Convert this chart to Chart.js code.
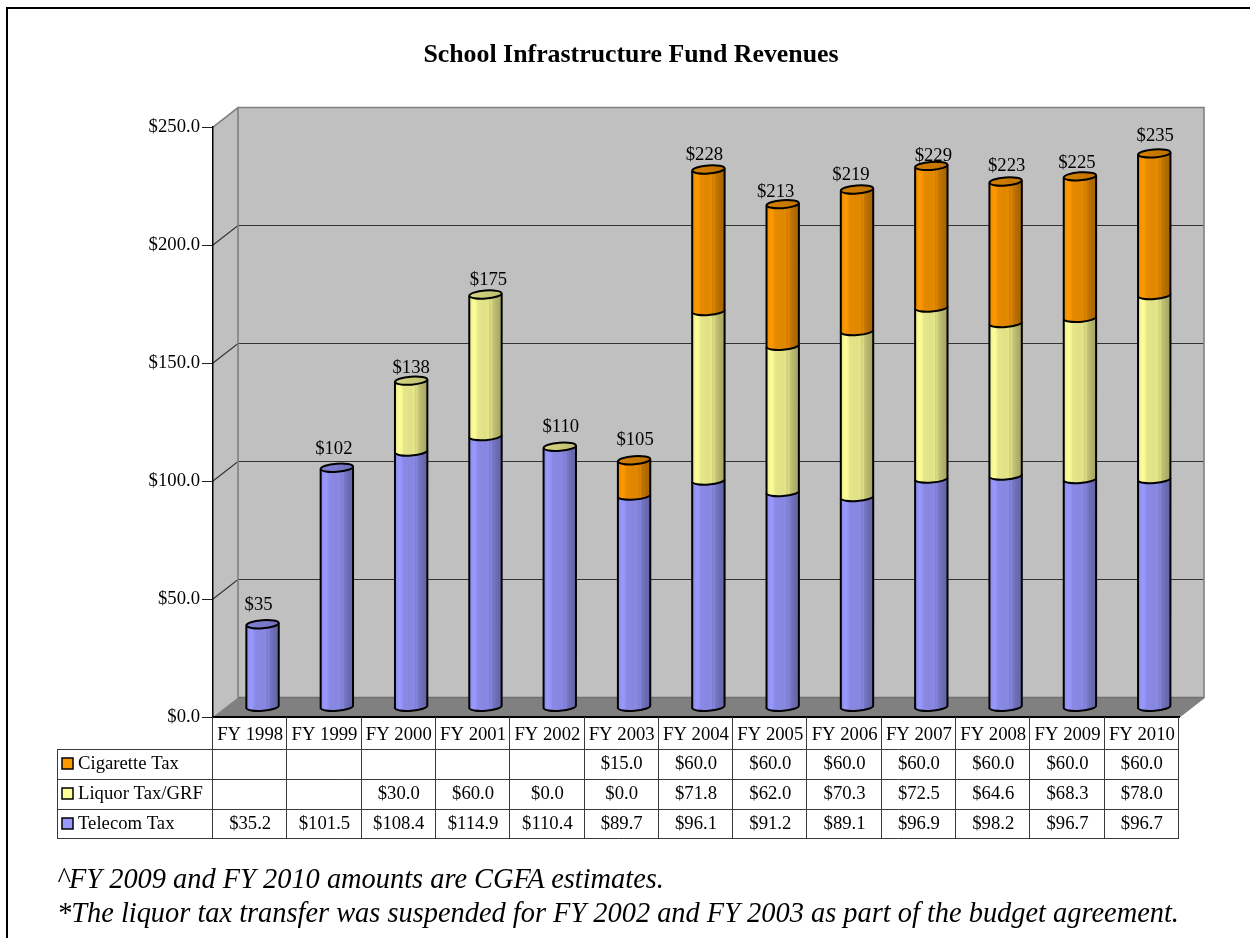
<!DOCTYPE html>
<html>
<head>
<meta charset="utf-8">
<title>School Infrastructure Fund Revenues</title>
<script src="https://cdn.jsdelivr.net/npm/chart.js@4"></script>
<style>
html, body { margin: 0; padding: 0; background: #fff; overflow: hidden; }
#wrap { position: relative; width: 1250px; height: 938px; overflow: hidden; }
#notes { position: absolute; left: 57px; top: 862px; font: italic 28.4px "Liberation Serif", serif; line-height: 34px; color: #000; white-space: nowrap; }
</style>
</head>
<body>
<div id="wrap">
    <canvas id="fundChart" width="1250" height="938"></canvas>
    <div id="notes">
        <div>^FY 2009 and FY 2010 amounts are CGFA estimates.</div>
        <div>*The liquor tax transfer was suspended for FY 2002 and FY 2003 as part of the budget agreement.</div>
    </div>
</div>
<script>
const years = ['FY 1998', 'FY 1999', 'FY 2000', 'FY 2001', 'FY 2002', 'FY 2003', 'FY 2004', 'FY 2005', 'FY 2006', 'FY 2007', 'FY 2008', 'FY 2009', 'FY 2010'];
const telecomTax = [35.2, 101.5, 108.4, 114.9, 110.4, 89.7, 96.1, 91.2, 89.1, 96.9, 98.2, 96.7, 96.7];
const liquorTax = [null, null, 30.0, 60.0, 0.0, 0.0, 71.8, 62.0, 70.3, 72.5, 64.6, 68.3, 78.0];
const cigaretteTax = [null, null, null, null, null, 15.0, 60.0, 60.0, 60.0, 60.0, 60.0, 60.0, 60.0];
const totalLabels = ['$35', '$102', '$138', '$175', '$110', '$105', '$228', '$213', '$219', '$229', '$223', '$225', '$235'];

const serif = '"Liberation Serif", serif';
const textSize = 18.7;

// how far the floor and back wall sit behind the axes, and where the bars stand in that depth
const depthX = 25, depthY = -19.5;
const barX = 12.4, barY = -9.7;
const capRy = 4, capTilt = -0.075;

// totals were placed by hand in the original, these nudge them off the bar centre
const labelNudgeX = [-4, -3, 0, 3, 1, 1, -4, -7, -6, 2, 1, -3, 1];
const labelLift = [19, 19, 13, 14, 20, 20, 14, 12, 14, 10, 15, 13, 17];

function shade(hex, k) {
    const n = parseInt(hex.slice(1), 16);
    const c = [n >> 16, (n >> 8) & 255, n & 255].map(v => Math.round(v * k));
    return 'rgb(' + c.join(',') + ')';
}

function sideFill(ctx, x0, x1, hex) {
    const g = ctx.createLinearGradient(x0, 0, x1, 0);
    const stops = [[0, .9], [.14, 1], [.24, .95], [.26, .9], [.5, .88], [.6, .9], [.62, .82], [.7, .86], [.72, .78], [.85, .7], [1, .64]];
    stops.forEach(s => g.addColorStop(s[0], shade(hex, s[1])));
    return g;
}

function capFill(ctx, x0, x1, hex) {
    const g = ctx.createLinearGradient(x0, 0, x1, 0);
    g.addColorStop(0, shade(hex, .84));
    g.addColorStop(1, shade(hex, .74));
    return g;
}

const box3d = {
    id: 'box3d',
    beforeDraw(chart) {
        const { ctx, chartArea: a, scales: { y } } = chart;
        ctx.save();
        // page frame, open at the right and bottom
        ctx.strokeStyle = '#000';
        ctx.lineWidth = 2;
        ctx.beginPath();
        ctx.moveTo(7, 938);
        ctx.lineTo(7, 8);
        ctx.lineTo(1250, 8);
        ctx.stroke();

        ctx.fillStyle = '#c0c0c0';
        ctx.beginPath();
        ctx.moveTo(a.left, a.top);
        ctx.lineTo(a.left + depthX, a.top + depthY);
        ctx.lineTo(a.right + depthX, a.top + depthY);
        ctx.lineTo(a.right + depthX, a.bottom + depthY);
        ctx.lineTo(a.left, a.bottom);
        ctx.closePath();
        ctx.fill();

        ctx.fillStyle = '#808080';
        ctx.beginPath();
        ctx.moveTo(a.left, a.bottom);
        ctx.lineTo(a.left + depthX, a.bottom + depthY);
        ctx.lineTo(a.right + depthX, a.bottom + depthY);
        ctx.lineTo(a.right, a.bottom);
        ctx.closePath();
        ctx.fill();

        y.ticks.forEach(t => {
            if (t.value === 0 || t.value === y.max) return;
            const py = y.getPixelForValue(t.value);
            ctx.strokeStyle = '#333';
            ctx.lineWidth = 1.2;
            ctx.beginPath();
            ctx.moveTo(a.left, py);
            ctx.lineTo(a.left + depthX, py + depthY);
            ctx.lineTo(a.right + depthX, py + depthY);
            ctx.stroke();
        });

        ctx.strokeStyle = '#808080';
        ctx.lineWidth = 1.6;
        ctx.beginPath();
        ctx.moveTo(a.left, a.top);
        ctx.lineTo(a.left + depthX, a.top + depthY);
        ctx.lineTo(a.right + depthX, a.top + depthY);
        ctx.lineTo(a.right + depthX, a.bottom + depthY);
        ctx.lineTo(a.right, a.bottom);
        ctx.moveTo(a.left + depthX, a.top + depthY);
        ctx.lineTo(a.left + depthX, a.bottom + depthY);
        ctx.stroke();
        ctx.strokeStyle = '#707070';
        ctx.beginPath();
        ctx.moveTo(a.left + depthX, a.bottom + depthY);
        ctx.lineTo(a.right + depthX, a.bottom + depthY);
        ctx.stroke();
        ctx.restore();
    },
    // the stock flat bars are replaced by the cylinders below
    beforeDatasetDraw() {
        return false;
    },
    afterDatasetsDraw(chart) {
        const { ctx } = chart;
        ctx.save();
        ctx.lineWidth = 2;
        ctx.strokeStyle = '#000';
        chart.data.datasets.forEach((ds, i) => {
            chart.getDatasetMeta(i).data.forEach((el, k) => {
                if (ds.data[k] === null) return;
                const cx = el.x + barX, rx = el.width / 2;
                const top = el.y + barY, bot = el.base + barY;
                const lean = rx * Math.sin(capTilt);
                if (ds.data[k] > 0) {
                    ctx.beginPath();
                    ctx.ellipse(cx, bot, rx, capRy, capTilt, 0, Math.PI);
                    ctx.lineTo(cx - rx, top - lean);
                    ctx.ellipse(cx, top, rx, capRy, capTilt, Math.PI, Math.PI * 2);
                    ctx.closePath();
                    ctx.fillStyle = sideFill(ctx, cx - rx, cx + rx, ds.backgroundColor);
                    ctx.fill();

                    ctx.beginPath();
                    ctx.moveTo(cx - rx, top - lean);
                    ctx.lineTo(cx - rx, bot - lean);
                    ctx.ellipse(cx, bot, rx, capRy, capTilt, Math.PI, 0, true);
                    ctx.lineTo(cx + rx, top + lean);
                    ctx.stroke();
                }
            });
        });

        // lid takes the colour of the last series that has a value, even a zero
        years.forEach((yr, k) => {
            let last = -1;
            chart.data.datasets.forEach((ds, i) => { if (ds.data[k] !== null) last = i; });
            const el = chart.getDatasetMeta(last).data[k];
            const cx = el.x + barX, rx = el.width / 2, top = el.y + barY;
            ctx.beginPath();
            ctx.ellipse(cx, top, rx, capRy, capTilt, 0, Math.PI * 2);
            ctx.fillStyle = capFill(ctx, cx - rx, cx + rx, chart.data.datasets[last].backgroundColor);
            ctx.fill();
            ctx.stroke();

            ctx.fillStyle = '#000';
            ctx.font = textSize + 'px ' + serif;
            ctx.textAlign = 'center';
            ctx.textBaseline = 'middle';
            ctx.fillText(totalLabels[k], cx + labelNudgeX[k], top - labelLift[k]);
        });
        ctx.restore();
    }
};

const dataTable = {
    id: 'dataTable',
    afterDraw(chart) {
        const { ctx, chartArea: a, scales: { x } } = chart;
        const tableLeft = 57.5, rowH = 30;
        const headBottom = a.bottom + 32;
        const colW = (a.right - a.left) / years.length;
        const rows = chart.data.datasets.slice().reverse();
        const tableBottom = headBottom + rows.length * rowH;
        ctx.save();
        ctx.strokeStyle = '#3a3a3a';
        ctx.lineWidth = 1;
        ctx.beginPath();
        rows.forEach((r, i) => {
            ctx.moveTo(tableLeft, headBottom + i * rowH + .5);
            ctx.lineTo(a.right, headBottom + i * rowH + .5);
        });
        ctx.moveTo(tableLeft, tableBottom - .5);
        ctx.lineTo(a.right, tableBottom - .5);
        ctx.moveTo(tableLeft, headBottom);
        ctx.lineTo(tableLeft, tableBottom);
        for (let c = 0; c <= years.length; c++) {
            const px = Math.round(a.left + c * colW) - .5;
            ctx.moveTo(px, a.bottom);
            ctx.lineTo(px, tableBottom);
        }
        ctx.stroke();

        ctx.font = textSize + 'px ' + serif;
        ctx.textBaseline = 'middle';
        rows.forEach((r, i) => {
            const cy = headBottom + i * rowH + rowH / 2;
            ctx.fillStyle = r.backgroundColor;
            ctx.fillRect(62, cy - 6, 11, 11);
            ctx.strokeStyle = '#000';
            ctx.lineWidth = 1.5;
            ctx.strokeRect(62, cy - 6, 11, 11);
            ctx.fillStyle = '#000';
            ctx.textAlign = 'left';
            ctx.fillText(r.label, 78, cy);
            ctx.textAlign = 'center';
            r.data.forEach((v, k) => {
                if (v === null) return;
                ctx.fillText('$' + v.toFixed(1), x.getPixelForTick(k), cy);
            });
        });
        ctx.restore();
    }
};

const fundChart = new Chart(document.getElementById('fundChart'), {
    type: 'bar',
    data: {
        labels: years,
        datasets: [
            { label: 'Telecom Tax', data: telecomTax, backgroundColor: '#9999FF' },
            { label: 'Liquor Tax/GRF', data: liquorTax, backgroundColor: '#FFFF99' },
            { label: 'Cigarette Tax', data: cigaretteTax, backgroundColor: '#FF9900' }
        ]
    },
    options: {
        responsive: false,
        animation: false,
        layout: { padding: { left: 83, right: 71, top: 0, bottom: 0 } },
        datasets: { bar: { categoryPercentage: 1, barPercentage: 0.436 } },
        scales: {
            x: {
                stacked: true,
                grid: { display: false },
                border: { color: '#000', width: 2 },
                ticks: { font: { family: serif, size: textSize }, color: '#000', padding: -1, maxRotation: 0, autoSkip: false },
                afterFit: s => { s.height = 221; }
            },
            y: {
                stacked: true,
                min: 0,
                max: 250,
                grid: { drawOnChartArea: false, tickLength: 11, color: '#222', tickColor: '#222' },
                border: { color: '#000', width: 1.5 },
                ticks: {
                    stepSize: 50,
                    padding: 2,
                    font: { family: serif, size: textSize },
                    color: '#000',
                    callback: v => '$' + v.toFixed(1)
                },
                afterFit: s => { s.width = 130; }
            }
        },
        plugins: {
            legend: { display: false },
            tooltip: { enabled: false },
            title: {
                display: true,
                text: 'School Infrastructure Fund Revenues',
                color: '#000',
                font: { family: serif, size: 25.85, weight: 'bold' },
                padding: { top: 39.5, bottom: 56.5 }
            }
        }
    },
    plugins: [box3d, dataTable]
});
</script>
</body>
</html>
